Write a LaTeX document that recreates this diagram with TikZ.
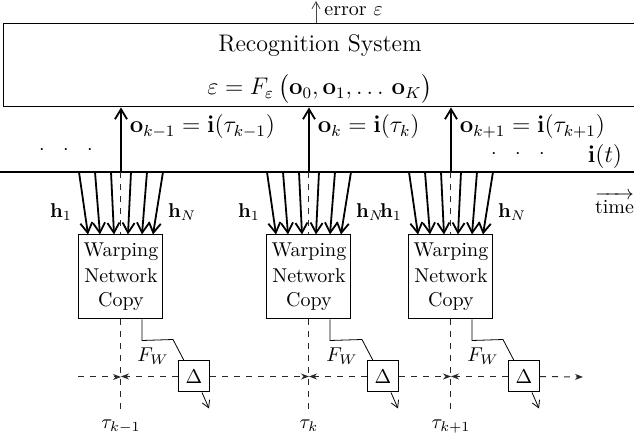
\documentclass[tikz,border=0pt]{standalone}
\usepackage{amsmath}
\usepackage{amssymb}
\usepackage{tikz}
\usetikzlibrary{
  arrows.meta,
  positioning,
  calc
}
\definecolor{linecolor}{RGB}{0, 0, 0}
\definecolor{dashcolor}{RGB}{40, 40, 40}
\definecolor{labelcolor}{RGB}{0, 0, 0}
\definecolor{errorcolor}{RGB}{70, 70, 70}
\tikzset{
blocktext/.style={
  align=center,
  text=labelcolor
},
sysblock/.style={
  draw=linecolor,
  line width=0.5pt,
  minimum width=316pt,
  minimum height=41.5pt
},
systext/.style={
  font=\large,
  inner sep=1pt,
  blocktext
},
copyblock/.style={
  draw=linecolor,
  line width=0.5pt,
  fill=white,
  minimum width=42pt,
  minimum height=42pt,
  inner sep=1pt,
  blocktext
},
deltablock/.style={
  draw=linecolor,
  line width=0.5pt,
  minimum width=15.5pt,
  minimum height=15.5pt,
  inner sep=0pt,
  blocktext
},
timeline/.style={
  draw=linecolor,
  line width=1.2pt
},
arrow/.style={
  -{Straight Barb[length=5pt,width=6pt]},
  line width=0.9pt,
  draw=linecolor
},
thinarrow/.style={
  -{Straight Barb[length=3.5pt,width=4pt]},
  line width=0.4pt,
  draw=errorcolor
},
dashedarrow/.style={
  -{Stealth[length=4pt,width=3pt]},
  dashed,
  line width=0.5pt,
  draw=dashcolor
},
tauline/.style={
  dashed,
  line width=0.5pt,
  draw=dashcolor
},
fwline/.style={
  line width=0.4pt,
  draw=linecolor
},
outlabel/.style={
  font=\large,
  text=labelcolor
}
}

\begin{document}
\begin{tikzpicture}[x=0.5pt, y=-0.5pt]
  \useasboundingbox (0,0) rectangle (634,444);

  % recognition system
  \node[sysblock] (recsys) at (320,65.5) {};
  \node[systext] (rectitle) at ($(recsys.center)+(0,-20)$) {Recognition System};
  \node[systext] (receq) at ($(recsys.center)+(0,23)$)
    {$\varepsilon = F_{\varepsilon}\,\bigl(\mathbf{o}_0, \mathbf{o}_1, \ldots\, \mathbf{o}_K\bigr)$};
  \coordinate (err) at (316,1);
  \draw[thinarrow] (recsys.north -| err) -- (err)
    node[right, pos=0.55, inner sep=4pt] (errlabel) {error $\varepsilon$};

  % input sequence i(t)
  \coordinate (tl) at (0,172);
  \coordinate (tr) at (640,172);
  \draw[timeline] (tl) -- (tr);
  \node[outlabel] (itlabel) at (605,157) {$\mathbf{i}(t)$};
  \node (dotsleft) at (66,150) {$\cdot\hspace{7pt}\cdot\hspace{7pt}\cdot$};
  \node (dotsright) at (518,154) {$\cdot\hspace{7pt}\cdot\hspace{7pt}\cdot$};
  \node[anchor=west] (timelabel) at (588,203) {$\overrightarrow{\mbox{time}}$};

  % warping network copies
  \foreach \i/\cx/\dx/\olabel/\taulabel in {
      1/121/194/{\mathbf{o}_{k-1} = \mathbf{i}(\tau_{k-1})}/{\tau_{k-1}},
      2/309/383/{\mathbf{o}_{k} = \mathbf{i}(\tau_{k})}/{\tau_{k}},
      3/451/524/{\mathbf{o}_{k+1} = \mathbf{i}(\tau_{k+1})}/{\tau_{k+1}}} {
    \coordinate (base\i) at (\cx,172);
    \coordinate (tau\i) at (\cx,413);
    \node[copyblock] (copy\i) at (\cx,277) {Warping\\[1pt]Network\\Copy};
    \node[deltablock] (delta\i) at (\dx,376.5) {$\Delta$};

    \draw[arrow] (base\i) -- (base\i |- recsys.south)
      node[outlabel, right, pos=0.7, inner sep=4pt] (olabel\i) {$\olabel$};
    \draw[tauline] (base\i) -- (copy\i.north);
    \draw[tauline] (copy\i.south) -- (tau\i);
    \node[below] (taulabel\i) at (tau\i) {$\taulabel$};

    \foreach \t/\b in {-42/-33, -26/-21, -10/-7, 10/7, 26/21, 42/32}
      \draw[arrow] ($(base\i)+(\t,0)$) -- ($(copy\i.north)+(\b,0)$);
    \node[anchor=east] (hfirst\i) at ($(base\i)+(-42,40)$) {$\mathbf{h}_1$};
    \node[anchor=west] (hlast\i) at ($(base\i)+(40,40)$) {$\mathbf{h}_N$};

    \coordinate (fwstart\i) at ($(copy\i.south)+(21,0)$);
    \draw[fwline] (fwstart\i) -- ++(0,21)
      -- ($(delta\i.north west)+(-5,-21)$) -- ($(delta\i.north west)+(6,0)$);
    \node (fwlabel\i) at ($(delta\i.north west)+(-25,-4)$) {$F_W$};
    \draw[thinarrow, draw=linecolor] ($(delta\i.south)+(8,0)$) -- ++(7,16);
    \draw[dashedarrow] (delta\i.west) -- (delta\i.west -| tau\i);
  }

  % time step chain
  \coordinate (hstart) at (78,377);
  \coordinate (hend) at (583,377);
  \draw[dashedarrow] (hstart) -- (hstart -| tau1);
  \draw[dashedarrow] (delta1.east) -- (delta1.east -| tau2);
  \draw[dashedarrow] (delta2.east) -- (delta2.east -| tau3);
  \draw[dashedarrow] (delta3.east) -- (hend);
\end{tikzpicture}
\end{document}
